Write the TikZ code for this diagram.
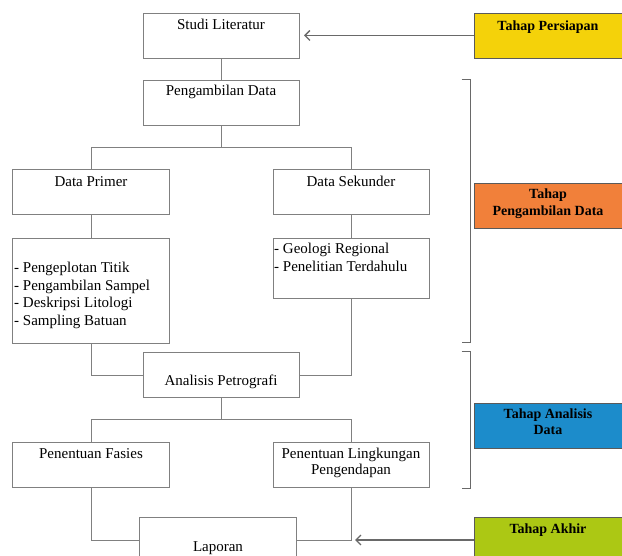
\documentclass[tikz,border=0pt]{standalone}
\usepackage{fontspec}
\setmainfont{Liberation Serif}
\usetikzlibrary{arrows.meta}
\definecolor{boxgray}{RGB}{128,128,128}
\definecolor{arrgray}{RGB}{105,105,105}
\definecolor{tyellow}{RGB}{244,210,10}
\definecolor{torange}{RGB}{241,128,58}
\definecolor{tblue}{RGB}{28,140,203}
\definecolor{tgreen}{RGB}{172,200,20}
\begin{document}
\begin{tikzpicture}[x=1pt,y=-1pt,
  box/.style={draw=boxgray, line width=0.9pt, fill=white, minimum width=156pt, minimum height=45pt, inner sep=0pt},
  tahapbox/.style={draw=boxgray!70!black, line width=0.6pt, minimum width=150pt, minimum height=45pt, inner sep=0pt},
  lbl/.style={font=\fontsize{15}{16.5}\selectfont, inner sep=0pt, align=center},
  tlbl/.style={font=\fontsize{14}{16.5}\selectfont\bfseries, inner sep=0pt, align=center},
  conn/.style={draw=boxgray, line width=0.9pt},
  arr/.style={draw=arrgray, line width=1.3pt, -{Straight Barb[length=5pt,width=10pt]}},
  brk/.style={draw=arrgray, line width=1pt}
]
\useasboundingbox (0,0) rectangle (622,556);
\clip (0,0) rectangle (622,556);
\fill[white] (0,0) rectangle (622,556);

% main boxes
\node[box] (studi) at (221,36) {};
\node[box] (pengambilan) at (221,102.5) {};
\node[box, minimum width=157pt] (primer) at (91,191.5) {};
\node[box] (sekunder) at (351,191.5) {};
\node[box, minimum width=157pt, minimum height=105pt] (primerdet) at (91,290.5) {};
\node[box, minimum height=60pt] (sekdet) at (351,268) {};
\node[box] (analisis) at (221,375) {};
\node[box, minimum width=157pt] (fasies) at (91,464.5) {};
\node[box] (lingkungan) at (351,464.5) {};
\node[box, minimum width=157pt, minimum height=46pt] (laporan) at (218,540) {};

% tahap boxes
\node[tahapbox, fill=tyellow] (persiapan) at (549,35.5) {};
\node[tahapbox, fill=torange] (tpengambilan) at (549,206) {};
\node[tahapbox, fill=tblue] (tanalisis) at (549,425.5) {};
\node[tahapbox, fill=tgreen, minimum height=48pt] (takhir) at (549,541) {};

% labels
\node[lbl, anchor=base] at (221,29.5) {Studi Literatur};
\node[lbl, anchor=base] at (221,95.5) {Pengambilan Data};
\node[lbl, anchor=base] at (91,186.5) {Data Primer};
\node[lbl, anchor=base] at (351,186.5) {Data Sekunder};
\node[lbl, anchor=base west, align=left] at (14,273) {- Pengeplotan Titik};
\node[lbl, anchor=base west, align=left] at (14,290.5) {- Pengambilan Sampel};
\node[lbl, anchor=base west, align=left] at (14,308) {- Deskripsi Litologi};
\node[lbl, anchor=base west, align=left] at (14,325.5) {- Sampling Batuan};
\node[lbl, anchor=base west, align=left] at (274,254) {- Geologi Regional};
\node[lbl, anchor=base west, align=left] at (274,272) {- Penelitian Terdahulu};
\node[lbl, anchor=base] at (221,386) {Analisis Petrografi};
\node[lbl, anchor=base] at (91,458) {Penentuan Fasies};
\node[lbl, anchor=base] at (351,458) {Penentuan Lingkungan};
\node[lbl, anchor=base] at (351,474.5) {Pengendapan};
\node[lbl, anchor=base] at (218,551) {Laporan};

\node[tlbl, anchor=base] at (548,30.5) {Tahap Persiapan};
\node[tlbl, anchor=base] at (548,199) {Tahap};
\node[tlbl, anchor=base] at (548,216) {Pengambilan Data};
\node[tlbl, anchor=base] at (548,418) {Tahap Analisis};
\node[tlbl, anchor=base] at (548,435) {Data};
\node[tlbl, anchor=base] at (548,533) {Tahap Akhir};

% connectors
\coordinate (br1) at (221,147.5);
\coordinate (br2) at (221,419);
\draw[conn] (studi.south) -- (pengambilan.north);
\draw[conn] (pengambilan.south) -- (br1);
\draw[conn] (br1) -| (primer.north);
\draw[conn] (br1) -| (sekunder.north);
\draw[conn] (primer.south) -- (primerdet.north);
\draw[conn] (sekunder.south) -- (sekdet.north);
\draw[conn] (primerdet.south) |- (analisis.west);
\draw[conn] (sekdet.south) |- (analisis.east);
\draw[conn] (analisis.south) -- (br2);
\draw[conn] (br2) -| (fasies.north);
\draw[conn] (br2) -| (lingkungan.north);
\draw[conn] (fasies.south) |- (laporan.west);
\draw[conn] (lingkungan.south) |- (laporan.east);

% arrows
\coordinate (tipA) at (304,35.5);
\coordinate (tipB) at (355,540);
\draw[arr] (persiapan.west) -- (tipA);
\draw[arr] (takhir.west |- tipB) -- (tipB);

% brackets
\draw[brk] (461.5,80) -- (470.5,80) -- (470.5,343) -- (461.5,343);
\draw[brk] (461.5,352) -- (470.5,352) -- (470.5,488) -- (461.5,488);
\end{tikzpicture}
\end{document}
